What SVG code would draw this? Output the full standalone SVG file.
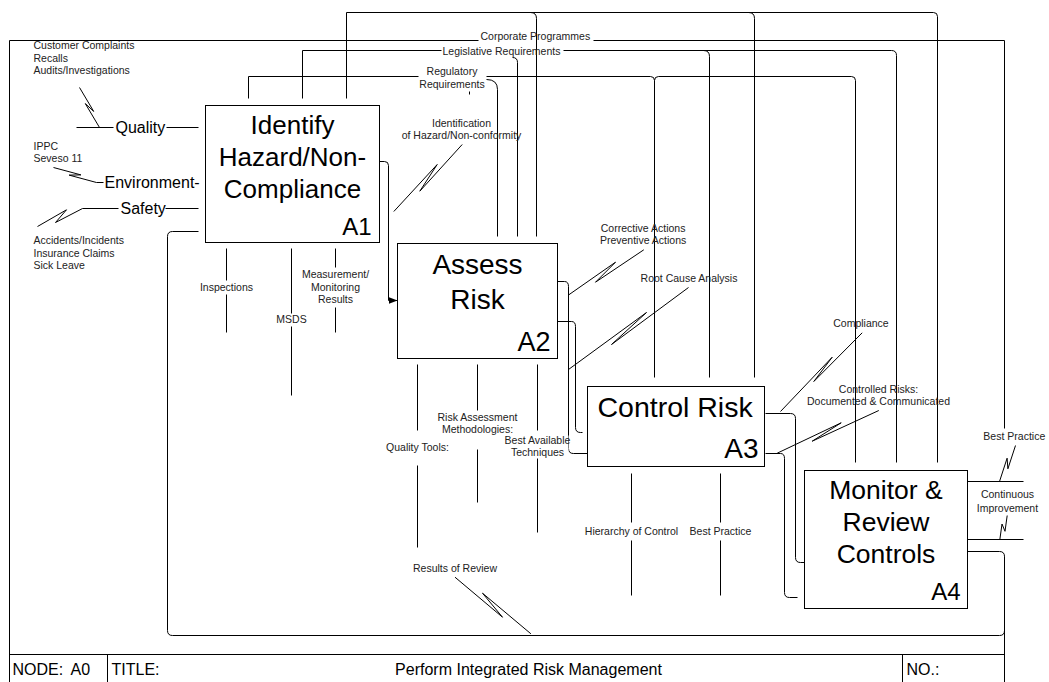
<svg xmlns="http://www.w3.org/2000/svg" width="1049" height="682" viewBox="0 0 1049 682">
<style>
.ln{fill:none;stroke:#000;stroke-width:1}
.box{fill:#fff;stroke:#000;stroke-width:1}
.lbl{font-family:"Liberation Sans",Arial,sans-serif;font-size:10.5px;fill:#222}
.in{font-family:"Liberation Sans",Arial,sans-serif;font-size:16px;fill:#000}
.t{font-family:"Liberation Sans",Arial,sans-serif;fill:#000}
.c{text-anchor:middle}
.e{text-anchor:end}
</style>
<defs>
<marker id="arr" markerWidth="10" markerHeight="8" refX="9" refY="4" orient="auto" markerUnits="userSpaceOnUse"><path d="M0,0.5 L9,4 L0,7.5 z" fill="#000"/></marker>
</defs>
<rect width="1049" height="682" fill="#fff"/>
<g transform="translate(0.5 0.5)">
<g id="frame" class="ln">
<path d="M9,682 V40 H478 M593,40 H1004 V428 M1004,556 V682"/>
<path d="M9,654 H1004 M107,654 V682 M902,654 V682"/>
</g>
<g id="connectors" class="ln">
<!-- controls -->
<path d="M346,98 V12 H933 Q937,12 937,16 V462"/>
<path d="M530,12 Q536,12 536,18 V236"/>
<path d="M748,12 Q754,12 754,18 V377"/>
<path d="M302,98 V50 H441"/>
<path d="M563,50 H891 Q896,50 896,55 V462"/>
<path d="M512,57 Q517,57 517,62 V236"/>
<path d="M703,50 Q709,50 709,56 V377"/>
<path d="M248,98 V76 H418"/>
<path d="M486,76 H650 Q654,76 654,80 V377"/>
<path d="M654,80 Q654,76 658,76 H851 Q855,76 855,80 V462"/>
<path d="M486,79 Q497,79 497,89 V236"/>
<path d="M469,91 V94"/>
<!-- inputs -->
<path d="M76,127 H113 M166,127 H198"/>
<path d="M79,87 L93.2,110.9 L84.8,103.1 L99,127"/>
<path d="M53,167 L80.4,174.4 L68.6,174.6 L96,182 H103"/>
<path d="M82,208 H118 M165,208 H198"/>
<path d="M37,226 L66,209.3 L55,222 L82,208"/>
<!-- feedback loop -->
<path d="M967,551 H999 Q1004,551 1004,556 V630 Q1004,635 999,635 H172 Q167,635 167,630 V236 Q167,231 172,231 H198"/>
<!-- A1 outputs -->
<path d="M379,161 H384 Q388,161 388,165 V300 H397" marker-end="url(#arr)"/>
<path d="M393.3,211 L436.7,164 L419.3,190.7 L461.7,144"/>
<!-- A1 mechanisms -->
<path d="M226,248 V280 M226,294 V332"/>
<path d="M291,248 V313 M291,326 V395"/>
<path d="M335,248 V267 M335,307 V332"/>
<!-- A2 outputs -->
<path d="M557,281 H564 Q568,281 568,286 V448 Q568,453 573,453 H587"/>
<path d="M557,321 H571 Q575,321 575,326 V427 Q575,432 580,432 H582"/>
<path d="M568.3,294.3 L615,261.7 L595,281.7 L643.3,249.3"/>
<path d="M568,369 L646,312 L611,344 L688,287"/>
<!-- A2 mechanisms -->
<path d="M417,364 V430 M417,465 V547"/>
<path d="M477,364 V410 M477,449 V502"/>
<path d="M537,364 V430 M537,458 V532"/>
<!-- A3 outputs -->
<path d="M765,413 H790 Q795,413 795,418 V557 Q795,562 800,562 H804"/>
<path d="M765,453 H780 Q784,453 784,458 V592 Q784,597 789,597 H797"/>
<path d="M780,411 L831.7,356.7 L813.3,381 L861.7,332.3"/>
<path d="M776.7,452.7 L840.7,422.3 L811.7,440.7 L878.3,410"/>
<!-- A3 mechanisms -->
<path d="M631,473 V522 M631,540 V595"/>
<path d="M720,473 V522 M720,540 V595"/>
<!-- A4 outputs -->
<path d="M967,481 H1023 M967,539 H1023"/>
<path d="M1015,445 L1007.4,468.3 L1006.6,457.7 L999,481"/>
<path d="M1006.7,515 L1004.5,530.8 L1001.5,523.5 L999.3,539.3"/>
<path d="M454.5,576.7 L502,616.7 L482,592.7 L530.4,633.3"/>
</g>
<g id="A1">
<rect class="box" x="205" y="105" width="174" height="137"/>
<text class="t c" x="292" y="133" font-size="26">Identify</text>
<text class="t c" x="292" y="165" font-size="26">Hazard/Non-</text>
<text class="t c" x="292" y="197" font-size="26">Compliance</text>
<text class="t e" x="371" y="234" font-size="24">A1</text>
</g>
<g id="A2">
<rect class="box" x="397" y="243" width="160" height="115"/>
<text class="t c" x="477" y="273" font-size="28">Assess</text>
<text class="t c" x="477" y="308" font-size="28">Risk</text>
<text class="t e" x="550" y="350" font-size="27">A2</text>
</g>
<g id="A3">
<rect class="box" x="587" y="386" width="177" height="80"/>
<text class="t" x="597" y="416" font-size="28.5">Control Risk</text>
<text class="t e" x="758" y="457.5" font-size="28">A3</text>
</g>
<g id="A4">
<rect class="box" x="804" y="470" width="163" height="138"/>
<text class="t c" x="885.5" y="498.5" font-size="26.5">Monitor &amp;</text>
<text class="t c" x="885.5" y="530.5" font-size="26.5">Review</text>
<text class="t c" x="885.5" y="562" font-size="26.5">Controls</text>
<text class="t e" x="960" y="599" font-size="24">A4</text>
</g>
<g id="labels">
<text class="lbl" x="33" y="48.5">Customer Complaints</text>
<text class="lbl" x="33" y="61">Recalls</text>
<text class="lbl" x="33" y="73.5">Audits/Investigations</text>
<text class="in" x="115" y="132">Quality</text>
<text class="lbl" x="33" y="149">IPPC</text>
<text class="lbl" x="33" y="161.5">Seveso 11</text>
<text class="in" x="104" y="187">Environment-</text>
<text class="in" x="120" y="213">Safety</text>
<text class="lbl" x="33" y="243.5">Accidents/Incidents</text>
<text class="lbl" x="33" y="256">Insurance Claims</text>
<text class="lbl" x="33" y="268.5">Sick Leave</text>
<text class="lbl" x="480" y="39.5">Corporate Programmes</text>
<text class="lbl" x="442" y="54">Legislative Requirements</text>
<text class="lbl c" x="451.5" y="74.3">Regulatory</text>
<text class="lbl c" x="451.5" y="87.5">Requirements</text>
<text class="lbl c" x="461" y="126">Identification</text>
<text class="lbl c" x="461" y="138.5">of Hazard/Non-conformity</text>
<text class="lbl c" x="226" y="290">Inspections</text>
<text class="lbl c" x="291" y="322.5">MSDS</text>
<text class="lbl c" x="335" y="277.5">Measurement/</text>
<text class="lbl c" x="335" y="290.2">Monitoring</text>
<text class="lbl c" x="335" y="302.9">Results</text>
<text class="lbl c" x="642.6" y="231">Corrective Actions</text>
<text class="lbl c" x="642.6" y="243.3">Preventive Actions</text>
<text class="lbl c" x="688.5" y="281.6">Root Cause Analysis</text>
<text class="lbl c" x="417" y="450">Quality Tools:</text>
<text class="lbl c" x="477" y="420">Risk Assessment</text>
<text class="lbl c" x="477" y="432">Methodologies:</text>
<rect x="506" y="435" width="62" height="22" fill="#fff"/>
<text class="lbl c" x="537" y="443.5">Best Available</text>
<text class="lbl c" x="537" y="455">Techniques</text>
<text class="lbl c" x="860.5" y="326">Compliance</text>
<text class="lbl c" x="878" y="392.6">Controlled Risks:</text>
<text class="lbl c" x="878" y="404.3">Documented &amp; Communicated</text>
<text class="lbl c" x="1013.8" y="439.3">Best Practice</text>
<text class="lbl c" x="1007" y="497.6">Continuous</text>
<text class="lbl c" x="1007" y="511">Improvement</text>
<text class="lbl c" x="631" y="534">Hierarchy of Control</text>
<text class="lbl c" x="720" y="534">Best Practice</text>
<text class="lbl c" x="454.5" y="571.5">Results of Review</text>
</g>
<g id="titleblock">
<text class="in" x="12" y="674">NODE:</text>
<text class="in" x="70" y="674">A0</text>
<text class="in" x="111" y="674">TITLE:</text>
<text class="in c" x="528" y="674">Perform Integrated Risk Management</text>
<text class="in" x="906" y="674">NO.:</text>
</g>
</g>
</svg>
